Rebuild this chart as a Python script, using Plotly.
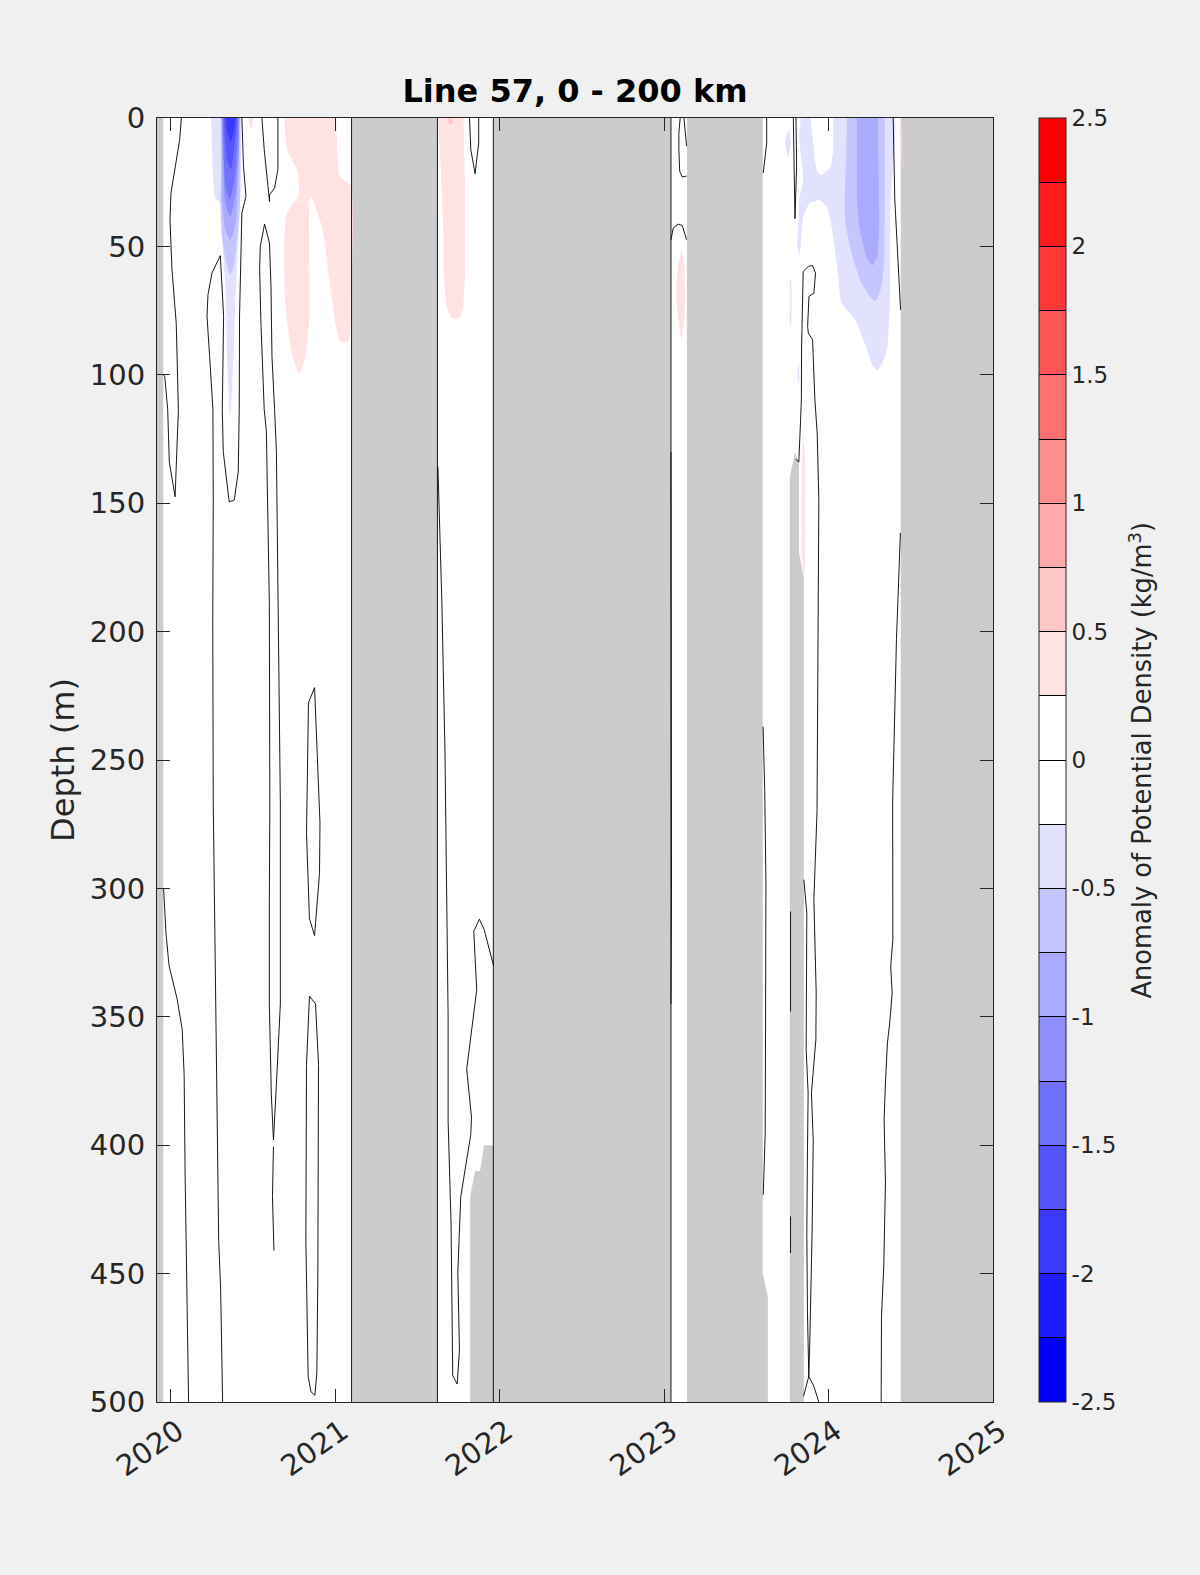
import plotly.graph_objects as go

# axis ticks
year_ticks = [2020, 2021, 2022, 2023, 2024, 2025]
depth_ticks = [0, 50, 100, 150, 200, 250, 300, 350, 400, 450, 500]
anomaly_edges = [-2.5, -2.25, -2, -1.75, -1.5, -1.25, -1, -0.75, -0.5, -0.25, 0,
                 0.25, 0.5, 0.75, 1, 1.25, 1.5, 1.75, 2, 2.25, 2.5]
anomaly_labels = ['-2.5', '', '-2', '', '-1.5', '', '-1', '', '-0.5', '', '0',
                  '', '0.5', '', '1', '', '1.5', '', '2', '', '2.5']

# colour of each 0.25 wide band, lowest first
band_colors = ['#0000ff', '#1c1cff', '#3939ff', '#5555ff', '#7171ff',
               '#8e8eff', '#aaaaff', '#c6c6ff', '#e2e2ff', '#ffffff',
               '#ffffff', '#ffe2e2', '#ffc6c6', '#ffaaaa', '#ff8e8e',
               '#ff7171', '#ff5555', '#ff3939', '#ff1c1c', '#ff0000']

# where the section has data (year, depth), everything else stays grey
coverage_2020 = [(2019.955, 0), (2021.10, 0), (2021.10, 500), (2019.955, 500)]
coverage_2021 = [(2021.622, 0), (2021.962, 0), (2021.962, 400), (2021.906, 400), (2021.881, 410),
                 (2021.851, 410), (2021.821, 420), (2021.821, 500), (2021.622, 500)]
coverage_2023 = [(2023.042, 0), (2023.139, 0), (2023.139, 500), (2023.042, 500)]
coverage_2024 = [(2023.60, 0), (2024.439, 0), (2024.439, 500), (2023.85, 500), (2023.85, 179),
                 (2023.82, 169), (2023.82, 134), (2023.795, 130.5), (2023.765, 140), (2023.765, 500),
                 (2023.631, 500), (2023.631, 459), (2023.60, 450)]

# filled anomaly patches (year, depth)
pos_2020 = [(2020.693, -3), (2020.707, 12.3), (2020.768, 20.1), (2020.778, 29.9), (2020.707, 37),
            (2020.691, 48.7), (2020.697, 72), (2020.737, 91.5), (2020.784, 99.6), (2020.822, 91.5),
            (2020.844, 77.2), (2020.849, 30.5), (2020.919, 42.2), (2020.980, 70.7), (2021.031, 87),
            (2021.081, 87), (2021.096, 72), (2021.096, 26.6), (2021.031, 22.7), (2021.011, 9.7),
            (2021.006, -3)]
pos_2020_tip = [(2020.474, 0), (2020.49, 4.5), (2020.504, 0)]
pos_2021 = [(2021.622, -3), (2021.639, 16.2), (2021.659, 44.8), (2021.659, 57.8), (2021.679, 73.4),
            (2021.709, 77.9), (2021.756, 77.9), (2021.780, 72), (2021.790, 57.8), (2021.790, 31.8),
            (2021.780, -3)]
pos_2021_top = [(2021.689, 0), (2021.689, 2.0), (2021.713, 2.2), (2021.713, 0)]
pos_2023 = [(2023.107, 50.6), (2023.080, 60.4), (2023.076, 70.8), (2023.101, 85), (2023.111, 86.3),
            (2023.127, 70.8), (2023.123, 57.8)]
pos_2024 = [(2023.848, 122.7), (2023.839, 135.7), (2023.835, 148.6), (2023.839, 172), (2023.852, 178.5),
            (2023.860, 161.6), (2023.860, 135.7)]
pos_2024_edge = [(2024.432, 0), (2024.439, 0), (2024.439, 21), (2024.436, 21)]

neg_2020_a = [(2020.245, -3), (2020.257, 21.4), (2020.271, 31.2), (2020.302, 33.1), (2020.312, 46),
              (2020.332, 65.5), (2020.346, 98), (2020.362, 117), (2020.379, 98), (2020.393, 72),
              (2020.403, 59), (2020.423, 33), (2020.427, 13.6), (2020.427, -3)]
neg_2020_b = [(2020.302, -3), (2020.312, 20.1), (2020.302, 31.8), (2020.312, 46), (2020.338, 56.5),
              (2020.362, 61), (2020.383, 57.8), (2020.409, 44.8), (2020.423, 30.5), (2020.423, -3)]
neg_2020_c = [(2020.308, -3), (2020.312, 31.8), (2020.332, 43.5), (2020.362, 47.4), (2020.393, 42.2),
              (2020.413, 20.1), (2020.419, -3)]
neg_2020_d = [(2020.312, -3), (2020.322, 20.1), (2020.332, 33.1), (2020.362, 38.3), (2020.393, 30.5),
              (2020.413, 13.6), (2020.417, -3)]
neg_2020_e = [(2020.316, -3), (2020.322, 13.6), (2020.332, 25.3), (2020.358, 31.8), (2020.389, 24),
              (2020.407, 8.4), (2020.411, -3)]
neg_2020_f = [(2020.322, -3), (2020.332, 9.7), (2020.346, 16.9), (2020.367, 20.1), (2020.383, 13.6),
              (2020.399, 4.5), (2020.403, -3)]
neg_2020_g = [(2020.334, -3), (2020.346, 5.8), (2020.367, 9.1), (2020.387, 4.5), (2020.399, -3)]

neg_2024_a = [(2023.836, -3), (2023.822, 8.4), (2023.846, 24), (2023.822, 31.2), (2023.816, 42.2),
              (2023.81, 48.7), (2023.822, 53.9), (2023.836, 44.8), (2023.846, 38.3), (2023.887, 33.1),
              (2023.943, 32), (2023.988, 34.4), (2024.018, 42.2), (2024.059, 61.7), (2024.079, 72),
              (2024.16, 78.5), (2024.227, 88.9), (2024.261, 95.4), (2024.296, 98.3), (2024.336, 94),
              (2024.359, 88.9), (2024.373, 70.8), (2024.377, 31.8), (2024.387, -3), (2024.045, -3),
              (2024.029, 12.3), (2024.008, 19.5), (2023.958, 22.1), (2023.931, 20.8), (2023.907, 9.7),
              (2023.887, -3)]
neg_2024_b = [(2024.114, -3), (2024.105, 18.8), (2024.099, 38.3), (2024.13, 50), (2024.191, 63),
              (2024.251, 69.5), (2024.286, 71.4), (2024.322, 65.6), (2024.338, 55.2), (2024.342, 31.8),
              (2024.342, -3)]
neg_2024_c = [(2024.172, -3), (2024.174, 31.8), (2024.186, 42.2), (2024.231, 53.9), (2024.265, 57.4),
              (2024.296, 53.9), (2024.306, 44.8), (2024.306, 31.8), (2024.30, -3)]
neg_2023_lens = [(2023.761, 3.9), (2023.735, 9.7), (2023.755, 14.9), (2023.771, 9.7)]
neg_2023_thin = [(2023.765, 63), (2023.771, 63), (2023.771, 81), (2023.765, 81)]
neg_2023_sliver = [(2023.822, 94.7), (2023.81, 100), (2023.822, 104.5)]

# (patch, index into band_colors), painted in this order
patches = [(pos_2020, 11), (pos_2020_tip, 11), (pos_2021, 11), (pos_2021_top, 12), (pos_2023, 11),
           (pos_2024, 11), (pos_2024_edge, 11),
           (neg_2020_a, 8), (neg_2020_b, 7), (neg_2020_c, 6), (neg_2020_d, 5), (neg_2020_e, 4),
           (neg_2020_f, 3), (neg_2020_g, 2),
           (neg_2024_a, 8), (neg_2024_b, 7), (neg_2024_c, 6),
           (neg_2023_lens, 8), (neg_2023_thin, 8), (neg_2023_sliver, 8)]

# zero contour, one list per piece (year, depth)
zero_a = [(2020.065, 0), (2020.055, 8.4), (2020.002, 29.2), (2019.996, 39.6), (2020.008, 59),
          (2020.034, 80), (2020.047, 113.6), (2020.039, 126), (2020.027, 147.5), (2019.992, 134),
          (2019.982, 113.6), (2019.965, 101), (2019.957, 100)]
zero_b = [(2019.957, 300), (2019.972, 317.7), (2019.990, 330), (2020.039, 343), (2020.070, 354.8),
          (2020.082, 372.4), (2020.088, 411.5), (2020.095, 437), (2020.100, 462.3), (2020.109, 500)]
zero_c = [(2020.433, 0), (2020.443, 18.8), (2020.458, 30.5), (2020.433, 37), (2020.419, 77),
          (2020.417, 113.6), (2020.411, 137.8), (2020.387, 148.7), (2020.356, 149.5), (2020.320, 130),
          (2020.314, 113.6), (2020.322, 77.2), (2020.302, 53.6), (2020.251, 60.4), (2020.227, 68.8),
          (2020.221, 77.2), (2020.237, 92.8), (2020.257, 113.6), (2020.259, 149.5), (2020.256, 196),
          (2020.259, 267), (2020.271, 325.6), (2020.283, 403.7), (2020.292, 437), (2020.304, 456),
          (2020.316, 500)]
zero_d = [(2020.555, 0), (2020.569, 12.3), (2020.601, 32.5), (2020.601, 29.9), (2020.632, 27.3),
          (2020.652, 20), (2020.652, 0)]
zero_e = [(2020.571, 41.3), (2020.545, 50), (2020.541, 59), (2020.549, 80), (2020.569, 113.6),
          (2020.582, 122), (2020.600, 188.6), (2020.603, 266.8), (2020.600, 306), (2020.600, 345),
          (2020.612, 380), (2020.625, 398), (2020.643, 376.4), (2020.667, 345), (2020.667, 267),
          (2020.655, 196), (2020.643, 130), (2020.632, 113.6), (2020.616, 92.8), (2020.61, 65.5),
          (2020.601, 48.7), (2020.571, 41.3)]
zero_e_tail = [(2020.625, 400.5), (2020.619, 420), (2020.628, 441)]
zero_f = [(2020.875, 221.8), (2020.838, 227.7), (2020.826, 278.6), (2020.844, 311.8), (2020.875, 318.4),
          (2020.905, 294.2), (2020.908, 274.6), (2020.875, 221.8)]
zero_g = [(2020.844, 342), (2020.826, 368.6), (2020.822, 437), (2020.829, 475.8), (2020.836, 490),
          (2020.853, 496), (2020.877, 497.4), (2020.889, 488.7), (2020.895, 449.7), (2020.899, 368.6),
          (2020.881, 345), (2020.844, 342)]
zero_h = [(2021.625, 135.8), (2021.649, 188.6), (2021.668, 247), (2021.679, 296.6), (2021.687, 350),
          (2021.687, 390.5), (2021.705, 430.7), (2021.715, 489.7), (2021.742, 493), (2021.756, 480),
          (2021.746, 449.5), (2021.764, 420), (2021.825, 395.8), (2021.829, 389), (2021.80, 370.4),
          (2021.861, 339.5), (2021.843, 316.7), (2021.877, 312), (2021.906, 316), (2021.963, 330)]
zero_i = [(2021.817, 0), (2021.825, 12.3), (2021.851, 21.7), (2021.873, 9.7), (2021.873, 0)]
zero_j1 = [(2023.098, 0), (2023.09, 5.9), (2023.09, 12.3), (2023.095, 20.8), (2023.111, 23), (2023.137, 22.6)]
zero_j2 = [(2023.121, 0), (2023.137, 11)]
zero_k = [(2023.042, 47.4), (2023.056, 42.8), (2023.086, 41.3), (2023.111, 41.9), (2023.137, 47.4)]
zero_k_edge = [(2023.042, 130), (2023.045, 200), (2023.045, 300), (2023.042, 345)]
zero_l1 = [(2023.624, 0), (2023.624, 9.7), (2023.603, 21.4)]
zero_l2 = [(2023.602, 237), (2023.612, 262), (2023.62, 300), (2023.619, 304.4), (2023.617, 356),
           (2023.615, 395.3), (2023.603, 419.3)]
zero_l3 = [(2023.769, 309), (2023.769, 348)]
zero_l4 = [(2023.769, 427.7), (2023.769, 442)]
zero_m = [(2023.786, 0), (2023.796, 39.2), (2023.806, 18.8), (2023.802, 0)]
zero_n = [(2023.801, 132.8), (2023.819, 134), (2023.825, 125.3), (2023.835, 109.7), (2023.836, 90),
          (2023.846, 59.7), (2023.877, 57.8), (2023.903, 57.5), (2023.921, 60.4), (2023.911, 68.2),
          (2023.881, 69.5), (2023.873, 81.2), (2023.877, 83.7), (2023.903, 86.3), (2023.917, 109.7),
          (2023.931, 122.7), (2023.941, 148.6), (2023.937, 200.6), (2023.936, 250), (2023.93, 270),
          (2023.911, 304.4), (2023.917, 323.9), (2023.925, 340.7), (2023.923, 358.9), (2023.896, 379.7),
          (2023.907, 397.9), (2023.90, 434.2), (2023.886, 477), (2023.880, 490), (2023.872, 465.4),
          (2023.868, 434.2), (2023.872, 401.8), (2023.876, 379.7), (2023.864, 362.8), (2023.864, 343.3),
          (2023.868, 309.6), (2023.85, 296.6)]
zero_n_foot = [(2023.848, 497.8), (2023.880, 490), (2023.911, 493.9), (2023.941, 500)]
zero_o = [(2024.393, 0), (2024.403, 31.8), (2024.438, 74.7)]
zero_p = [(2024.437, 161.6), (2024.413, 203), (2024.39, 266), (2024.391, 304.4), (2024.391, 320),
          (2024.378, 330.4), (2024.387, 340.7), (2024.372, 352.4), (2024.358, 360.2), (2024.346, 375.8),
          (2024.338, 390), (2024.346, 414.7), (2024.336, 447), (2024.322, 466.7), (2024.32, 500)]
# zero contour also runs along these gap edges, full depth
gap_edges = [2021.10, 2021.622, 2021.962, 2023.042]

zero_lines = [zero_a, zero_b, zero_c, zero_d, zero_e, zero_e_tail, zero_f, zero_g, zero_h, zero_i,
              zero_j1, zero_j2, zero_k, zero_k_edge, zero_l1, zero_l2, zero_l3, zero_l4, zero_m,
              zero_n, zero_n_foot, zero_o, zero_p]

TEXT = '#262626'
FONT = 'DejaVu Sans'


def add_fill(fig, points, color, shape='linear'):
    fig.add_trace(go.Scatter(x=[p[0] for p in points], y=[p[1] for p in points], mode='lines',
                             fill='toself', fillcolor=color, line=dict(width=0, shape=shape, smoothing=0.6),
                             hoverinfo='skip'))


def add_line(fig, xs, ys):
    fig.add_trace(go.Scatter(x=xs, y=ys, mode='lines', line=dict(color='black', width=0.9),
                             hoverinfo='skip'))


fig = go.Figure()
for span in [coverage_2020, coverage_2021, coverage_2023, coverage_2024]:
    add_fill(fig, span, 'white')
for patch, band in patches:
    add_fill(fig, patch, band_colors[band], shape='spline')
for piece in zero_lines:
    add_line(fig, [p[0] for p in piece], [p[1] for p in piece])
for edge in gap_edges:
    add_line(fig, [edge, edge], [0, 500])

# stepped colour scale, drawn only for the colorbar
scale = []
for i, c in enumerate(band_colors):
    scale.append([i / 20, c])
    scale.append([(i + 1) / 20, c])
fig.add_trace(go.Scatter(
    x=[None] * len(anomaly_edges), y=[None] * len(anomaly_edges), mode='markers', hoverinfo='skip',
    marker=dict(color=anomaly_edges, cmin=-2.5, cmax=2.5, colorscale=scale, showscale=True,
                colorbar=dict(x=1.0555, xanchor='left', xpad=0, y=0.5, yanchor='middle', ypad=0,
                              len=1, thickness=27, outlinecolor=TEXT, outlinewidth=1,
                              tickmode='array', tickvals=anomaly_edges, ticktext=anomaly_labels,
                              ticks='inside', ticklen=27, tickwidth=1, tickcolor='black',
                              tickfont=dict(family=FONT, size=23, color=TEXT)))))

fig.add_annotation(text='Anomaly of Potential Density (kg/m<sup>3</sup>)', textangle=-90, showarrow=False,
                   xref='paper', yref='paper', x=(1141 - 156.7) / 836.6, y=0.5,
                   xanchor='center', yanchor='middle', font=dict(family=FONT, size=25.7, color=TEXT))

fig.update_layout(
    width=1200, height=1575, autosize=False, showlegend=False,
    paper_bgcolor='#f0f0f0', plot_bgcolor='#cccccc',
    margin=dict(l=156.7, r=206.7, t=118.3, b=172.7),
    font=dict(family=FONT, color=TEXT),
    title=dict(text='<b>Line 57, 0 - 200 km</b>', x=0.5, xref='paper', xanchor='center',
               y=1 - 91 / 1575, yanchor='middle', font=dict(family=FONT, size=32, color='black')),
    xaxis=dict(range=[2019.917, 2025], tickmode='array', tickvals=year_ticks, showgrid=False, zeroline=False,
               tickangle=-35, ticks='inside', ticklen=13, tickwidth=1, tickcolor=TEXT, ticklabelshift=7,
               showline=True, linecolor=TEXT, linewidth=1, mirror='ticks', layer='above traces',
               tickfont=dict(family=FONT, size=29, color=TEXT)),
    yaxis=dict(range=[500, 0], tickmode='array', tickvals=depth_ticks, showgrid=False, zeroline=False,
               ticks='inside', ticklen=13, tickwidth=1, tickcolor=TEXT, ticklabelstandoff=5,
               showline=True, linecolor=TEXT, linewidth=1, mirror='ticks', layer='above traces',
               tickfont=dict(family=FONT, size=29, color=TEXT),
               title=dict(text='Depth (m)', standoff=5, font=dict(family=FONT, size=32, color=TEXT))),
)

fig.write_html("out.html", config={'displayModeBar': False},
               post_script="document.body.style.margin='0';document.body.style.background='#f0f0f0';")
